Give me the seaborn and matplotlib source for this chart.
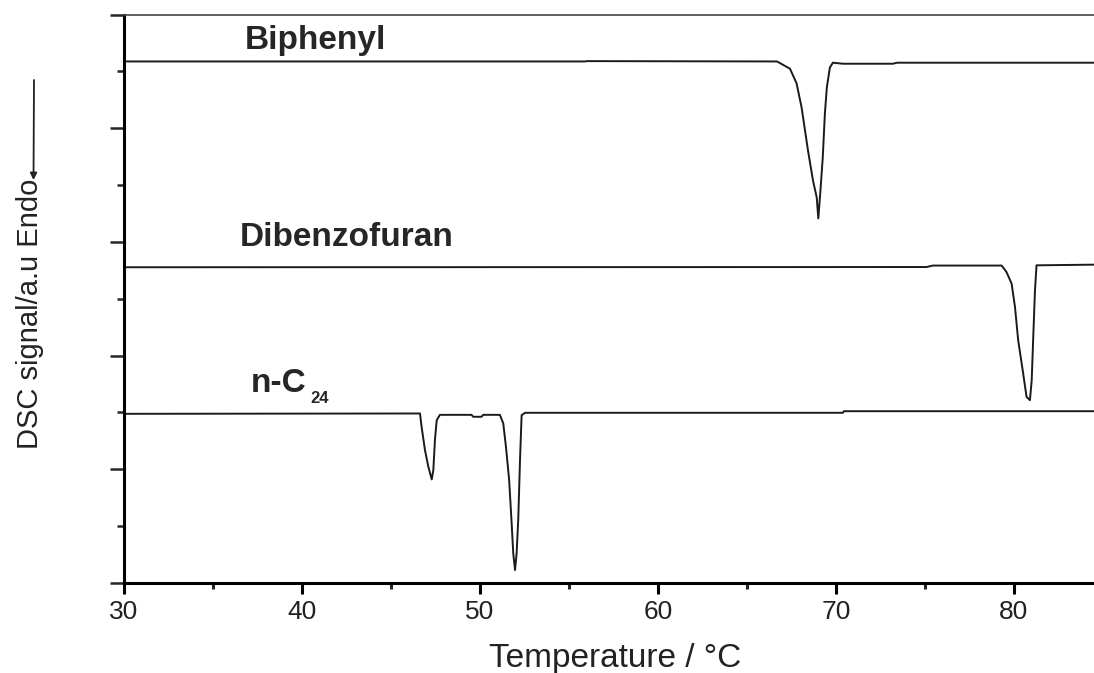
import numpy as np
import pandas as pd
import matplotlib
matplotlib.use("Agg")
import matplotlib.pyplot as plt
from matplotlib.ticker import MultipleLocator, NullFormatter
import seaborn as sns

# ---- data (temperature in °C, signal in a.u.) ----
biphenyl_T = [30.0, 55.9, 56.0, 66.69, 67.42, 67.79, 68.07, 68.43, 68.71, 68.92, 69.01,
              69.13, 69.26, 69.38, 69.49, 69.66, 69.83, 70.39, 73.20, 73.43, 84.6]
biphenyl_S = [4.587, 4.587, 4.590, 4.587, 4.523, 4.394, 4.183, 3.805, 3.541, 3.392, 3.207,
              3.453, 3.743, 4.130, 4.359, 4.534, 4.576, 4.567, 4.567, 4.576, 4.576]

dibenzofuran_T = [30.0, 75.09, 75.45, 79.31, 79.58, 79.87, 80.06, 80.24, 80.52, 80.71,
                  80.90, 81.00, 81.08, 81.18, 81.27, 84.6]
dibenzofuran_S = [2.777, 2.779, 2.792, 2.792, 2.736, 2.634, 2.428, 2.135, 1.843, 1.637,
                  1.608, 1.784, 2.135, 2.560, 2.794, 2.800]

nc24_T = [30.0, 46.63, 46.72, 46.91, 47.10, 47.29, 47.38, 47.47, 47.57, 47.75, 49.53,
          49.62, 50.09, 50.18, 51.12, 51.31, 51.46, 51.64, 51.78, 51.87, 51.97, 52.06,
          52.15, 52.25, 52.34, 52.53, 70.39, 70.45, 84.6]
nc24_S = [1.488, 1.491, 1.374, 1.169, 1.022, 0.911, 0.993, 1.257, 1.432, 1.479, 1.479,
          1.462, 1.462, 1.479, 1.479, 1.403, 1.198, 0.905, 0.525, 0.261, 0.114, 0.261,
          0.554, 1.081, 1.476, 1.497, 1.497, 1.511, 1.511]

series_names = ["Biphenyl", "Dibenzofuran", "n-C24"]
x_ticks = [30, 40, 50, 60, 70, 80]

df = pd.concat([
    pd.DataFrame({"T": biphenyl_T, "S": biphenyl_S, "sample": "Biphenyl"}),
    pd.DataFrame({"T": dibenzofuran_T, "S": dibenzofuran_S, "sample": "Dibenzofuran"}),
    pd.DataFrame({"T": nc24_T, "S": nc24_S, "sample": "n-C24"}),
], ignore_index=True)

sns.set_style("ticks")
plt.rcParams["font.family"] = ["Liberation Sans", "DejaVu Sans"]

fig = plt.figure(figsize=(10.94, 6.73), dpi=100)
ax = fig.add_axes([124 / 1094, 1 - 583 / 673, 1 - 124 / 1094, (583 - 14.5) / 673])

line_color = "#1a1a1a"
sns.lineplot(data=df, x="T", y="S", hue="sample", units="sample", estimator=None,
             sort=False, palette={n: line_color for n in series_names},
             linewidth=1.4, legend=False, ax=ax)

ax.set_xlim(30, 84.5)
ax.set_ylim(0, 5)

ax.set_xticks(x_ticks)
ax.xaxis.set_minor_locator(MultipleLocator(5))
ax.yaxis.set_major_locator(MultipleLocator(1))
ax.yaxis.set_minor_locator(MultipleLocator(0.5))
ax.yaxis.set_major_formatter(NullFormatter())

for side in ["left", "bottom"]:
    ax.spines[side].set_linewidth(2.2)
    ax.spines[side].set_color("black")
ax.spines["top"].set_linewidth(1.2)
ax.spines["top"].set_color("#444444")
ax.spines["right"].set_visible(False)

ax.tick_params(axis="x", which="major", direction="out", length=8, width=2.2,
               labelsize=19, pad=4, colors="black")
ax.tick_params(axis="x", which="minor", direction="out", length=4.5, width=2.2)
ax.tick_params(axis="y", which="major", direction="out", length=10, width=1.8, left=True)
ax.tick_params(axis="y", which="minor", direction="out", length=5, width=1.8, left=True)
for lbl in ax.get_xticklabels():
    lbl.set_color("#222222")

ax.set_xlabel("Temperature / °C", fontsize=24, color="#222222")
ax.xaxis.set_label_coords(0.506, -0.105)
ax.set_ylabel("")

fig.text(30 / 1094, 1 - 314 / 673, "DSC signal/a.u Endo", rotation=90,
         ha="center", va="center", fontsize=21, color="#222222")
ax.annotate("", xy=(33.5 / 1094, 1 - 180 / 673), xytext=(34 / 1094, 1 - 80 / 673),
            xycoords="figure fraction", textcoords="figure fraction",
            arrowprops=dict(arrowstyle="-|>", lw=1.3, color="#222222",
                            mutation_scale=10, shrinkA=0, shrinkB=0))

# sample names
ax.text(36.8, 4.77, "Biphenyl", fontsize=24, fontweight="bold", ha="left", va="center")
ax.text(36.5, 3.04, "Dibenzofuran", fontsize=24, fontweight="bold", ha="left", va="center")
ax.text(37.1, 1.755, "n-C", fontsize=24, fontweight="bold", ha="left", va="center")
ax.text(40.45, 1.62, "24", fontsize=12, fontweight="bold", ha="left", va="center")

fig.savefig("out.png", dpi=100)
